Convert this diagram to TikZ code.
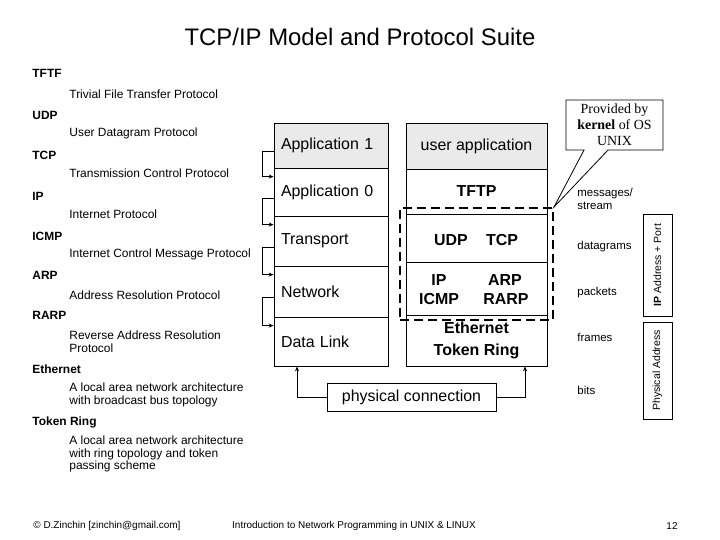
\documentclass[tikz,border=0pt]{standalone}
\usepackage{fontspec}
\setmainfont{Liberation Sans}
\newfontfamily\calloutfont{Liberation Serif}
\usetikzlibrary{arrows.meta,shapes.callouts}
\definecolor{layergray}{RGB}{234,234,234}

\begin{document}
\begin{tikzpicture}[x=1bp,y=-1bp,line width=0.8bp,
  >={Stealth[length=5bp,width=4bp]},
  leftrow/.style={draw,text width=100bp,inner xsep=7bp,inner ysep=0pt,align=left,font=\fontsize{16}{19}\selectfont},
  rightrow/.style={draw,minimum width=141bp,inner sep=0pt,font=\fontsize{16}{22}\selectfont},
  proto/.style={font=\fontsize{16}{19}\selectfont\bfseries},
  term/.style={anchor=west,inner sep=0pt,font=\fontsize{12}{14}\selectfont\bfseries},
  meaning/.style={anchor=west,inner sep=0pt,align=left,font=\fontsize{12}{12.8}\selectfont},
  unit/.style={anchor=west,inner sep=0pt,align=left,font=\fontsize{11.5}{13}\selectfont},
  addr/.style={draw,rotate=90,minimum height=29bp,inner sep=0pt,font=\fontsize{10.5}{12}\selectfont},
  footer/.style={inner sep=0pt,font=\fontsize{10}{12}\selectfont}]
  \useasboundingbox (0,0) rectangle (720,540);

  \node (title) at (360,37) [font=\fontsize{24}{28}\selectfont]{TCP/IP Model and Protocol Suite};

  % glossary on the left
  \node (tftf) at (32,73) [term]{TFTF};
  \node (tftfd) at (69,94) [meaning]{Trivial File Transfer Protocol};
  \node (udpt) at (32,115) [term]{UDP};
  \node (udpd) at (69,133) [meaning]{User Datagram Protocol};
  \node (tcpt) at (32,155) [term]{TCP};
  \node (tcpd) at (69,173) [meaning]{Transmission Control Protocol};
  \node (ipt) at (32,196) [term]{IP};
  \node (ipd) at (69,214) [meaning]{Internet Protocol};
  \node (icmpt) at (32,236) [term]{ICMP};
  \node (icmpd) at (69,254) [meaning]{Internet Control Message Protocol};
  \node (arpt) at (32,275) [term]{ARP};
  \node (arpd) at (69,295) [meaning]{Address Resolution Protocol};
  \node (rarpt) at (32,315) [term]{RARP};
  \node (rarpd) at (69,341.5) [meaning]{Reverse Address Resolution\\Protocol};
  \node (etht) at (32,369) [term]{Ethernet};
  \node (ethd) at (69,395) [meaning]{A local area network architecture\\with broadcast bus topology};
  \node (tokt) at (32,422) [term]{Token Ring};
  \node (tokd) at (69,454) [meaning]{A local area network architecture\\with ring topology and token\\passing scheme};

  % OSI like layers
  \node (app1) at (331,145.5) [leftrow,fill=layergray,minimum height=45bp]{Application 1};
  \node (app0) at (331,192) [leftrow,minimum height=48bp]{Application 0};
  \node (trans) at (331,241) [leftrow,minimum height=50bp]{Transport};
  \node (net) at (331,291.5) [leftrow,minimum height=51bp]{Network};
  \node (dlink) at (331,341.5) [leftrow,minimum height=49bp]{Data Link};

  \foreach \upper/\lower in {app1/app0,app0/trans,trans/net,net/dlink}
    \draw[->] ([yshift=-6bp]\upper.west) -- ++(-11,0) |- ([yshift=-9bp]\lower.north west);

  % TCP/IP suite
  \node (user) at (476.5,146) [rightrow,fill=layergray,minimum height=46bp]{user application};
  \node (tftp) at (476.5,191.5) [rightrow,minimum height=45bp]{\textbf{TFTP}};
  \node (trp) at (476.5,238) [rightrow,minimum height=48bp]{};
  \node (nwp) at (476.5,288.5) [rightrow,minimum height=53bp]{};
  \node (lnk) at (476.5,340.5) [rightrow,minimum height=51bp,align=center]{\textbf{Ethernet}\\\textbf{Token Ring}};

  \node (udp) at (451,240) [proto]{UDP};
  \node (tcp) at (502,240) [proto]{TCP};
  \node (ip) at (439,280) [proto]{IP};
  \node (icmp) at (439,299) [proto]{ICMP};
  \node (arp) at (505,280) [proto]{ARP};
  \node (rarp) at (506,299) [proto]{RARP};

  \node (kern) at (476.5,264) [draw,line width=2bp,dash pattern=on 9bp off 5bp,minimum width=153bp,minimum height=112bp]{};

  \node (prov) at (614.5,125) [rectangle callout,draw,fill=white,minimum width=97bp,minimum height=50bp,inner sep=0pt,
    callout absolute pointer={(kern.north east)},callout pointer width=24bp,align=center,
    font=\calloutfont\fontsize{14}{16}\selectfont]{Provided by\\\textbf{kernel} of OS\\UNIX};

  % physical connection
  \node (phys) at (411.5,397) [draw,minimum width=169bp,minimum height=28bp,font=\fontsize{16}{19}\selectfont]{physical connection};
  \coordinate (dlfoot) at ([xshift=-34bp]dlink.south);
  \coordinate (lnkfoot) at ([xshift=48.5bp]lnk.south);
  \draw[->] (phys.west) -| (dlfoot);
  \draw[->] (phys.east) -| (lnkfoot);

  % data units
  \node (msg) at (577,198.5) [unit]{messages/\\stream};
  \node (dgram) at (577,247) [unit]{datagrams};
  \node (pkt) at (577,293) [unit]{packets};
  \node (frm) at (577,337) [unit]{frames};
  \node (bit) at (577,390) [unit]{bits};

  \node (ipport) at (657.5,265) [addr,minimum width=102bp]{\textbf{IP} Address + Port};
  \node (phaddr) at (657.5,370.5) [addr,minimum width=97bp]{Physical Address};

  % footer
  \node (copy) at (33,526) [footer,anchor=west]{\textcopyright{} D.Zinchin [zinchin@gmail.com]};
  \node (course) at (354,526) [footer]{Introduction to Network Programming in UNIX \& LINUX};
  \node (page) at (672,526) [footer]{12};

\end{tikzpicture}
\end{document}
